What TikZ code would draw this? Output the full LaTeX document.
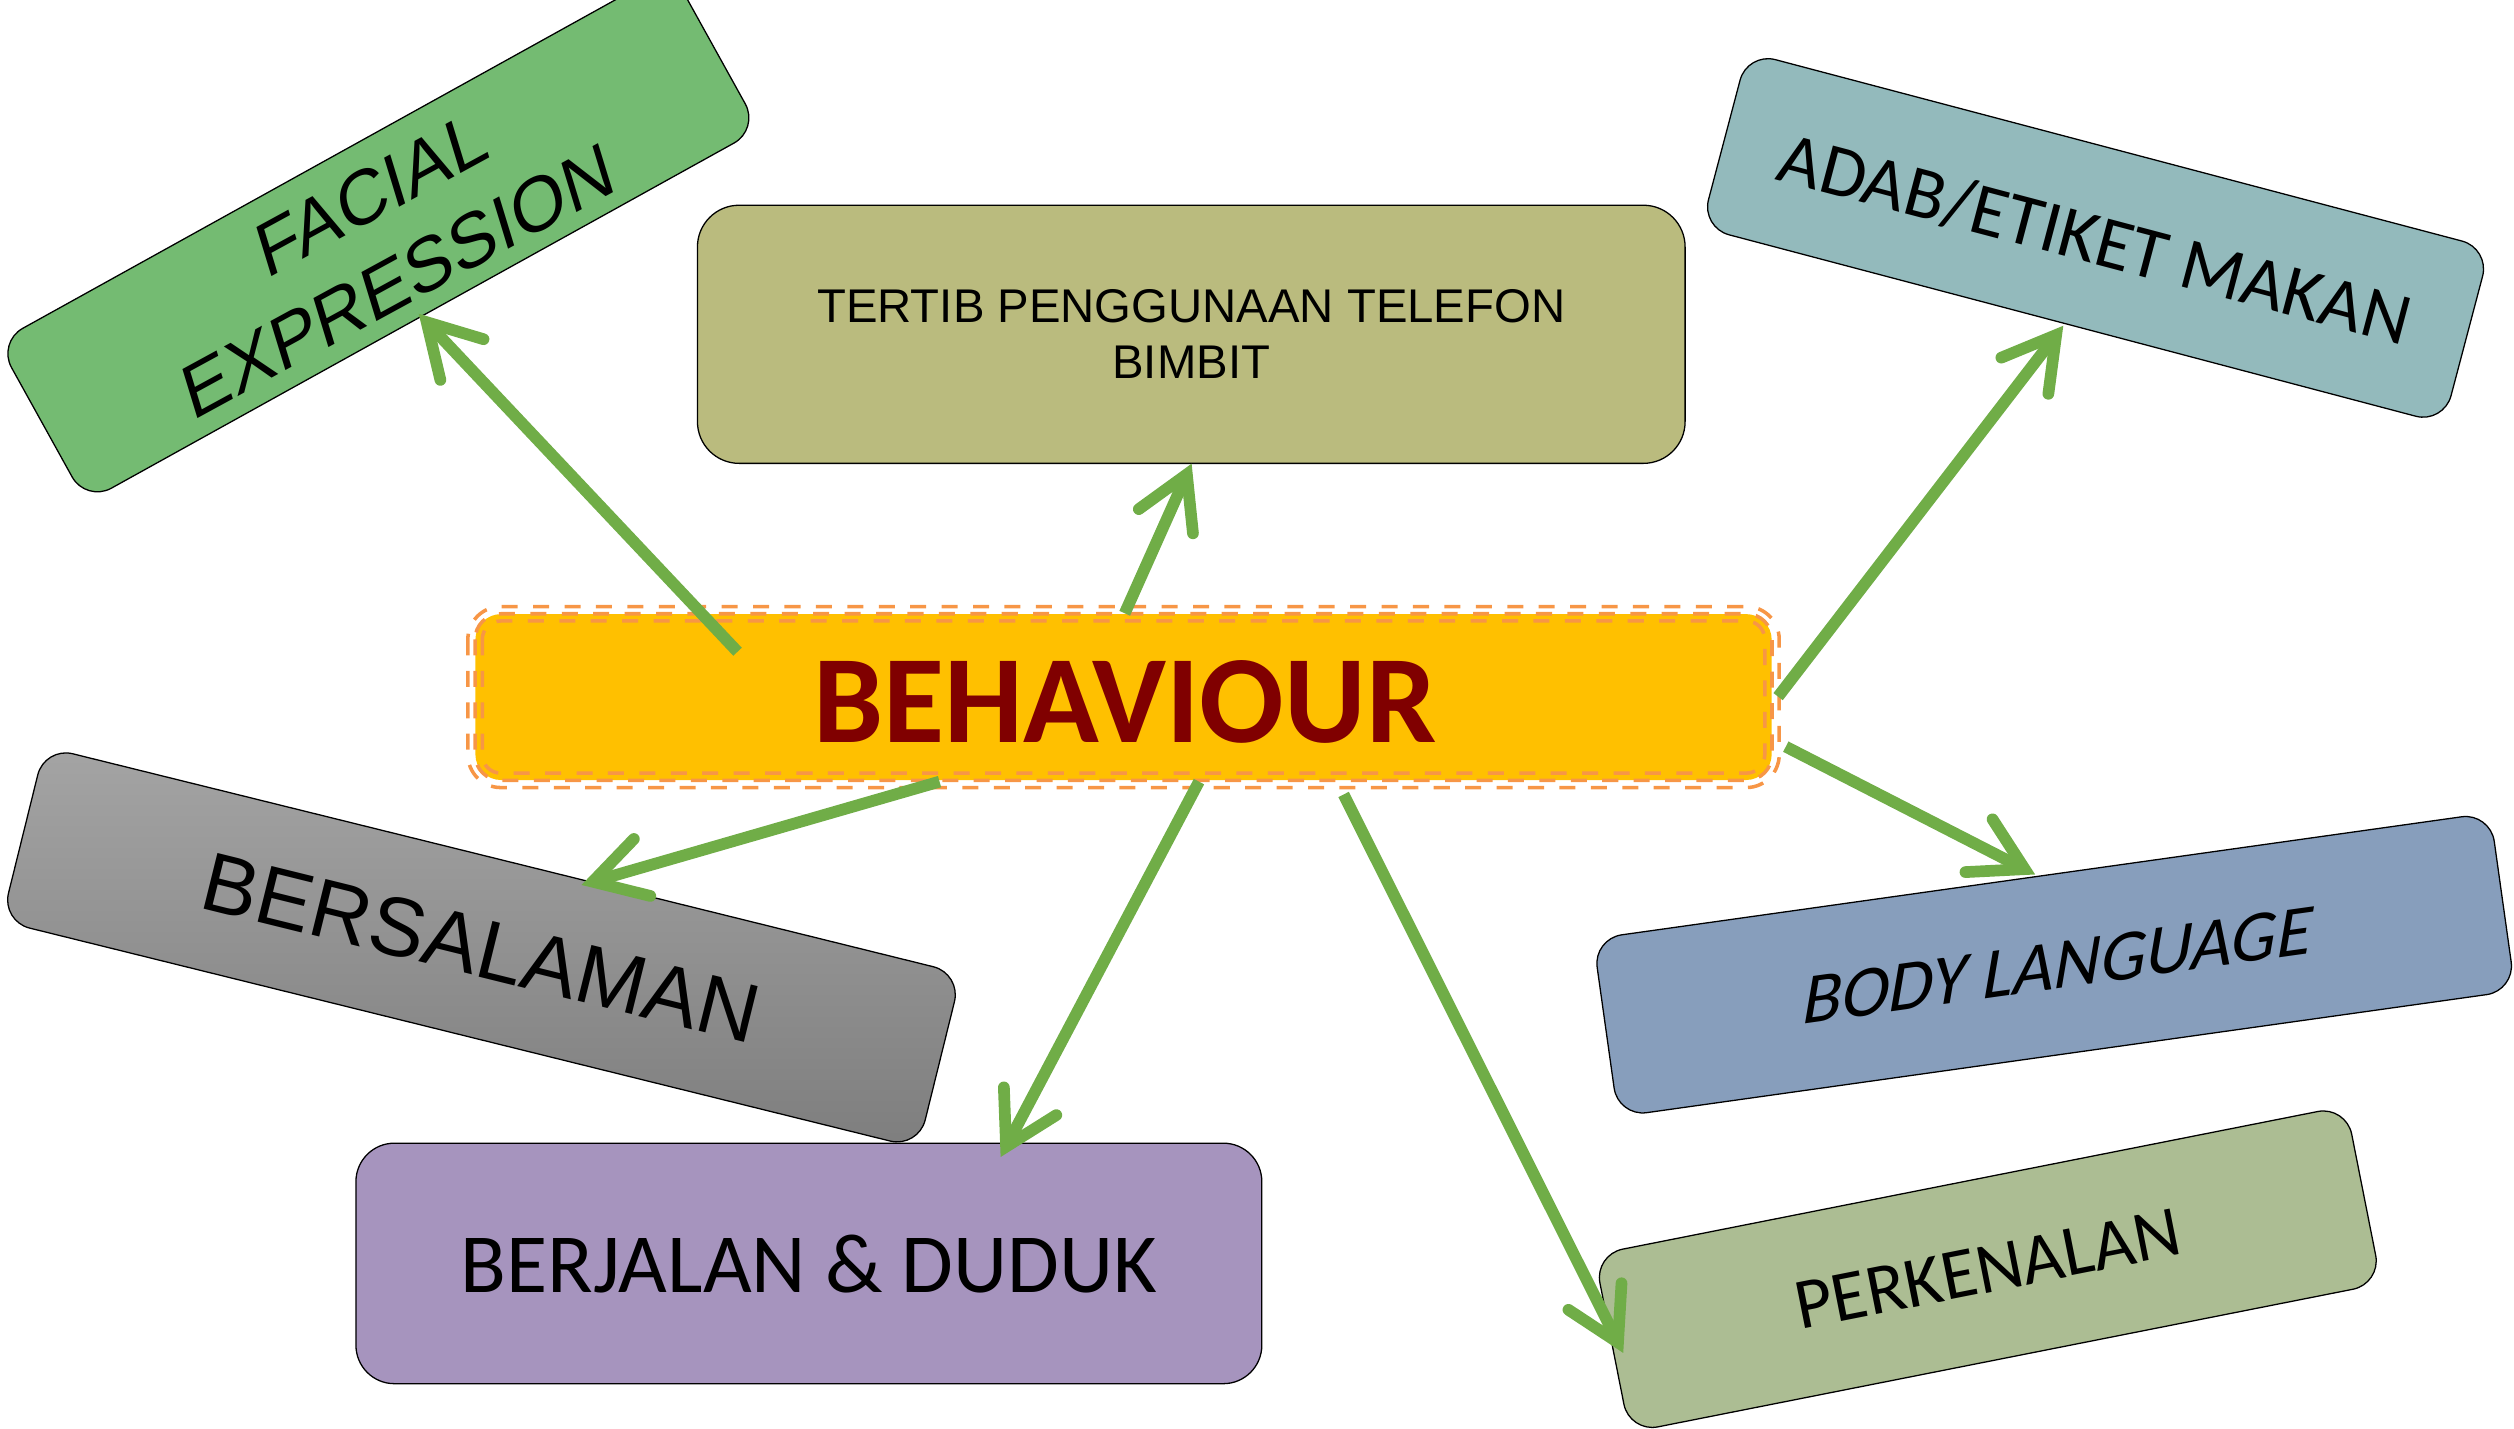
\documentclass[tikz,border=0pt]{standalone}
\usepackage{fontspec}
\setmainfont{Liberation Sans}
\newfontfamily\calibri{Carlito}
\usetikzlibrary{calc}

\definecolor{facialgreen}{HTML}{74BB72}
\definecolor{tertibolive}{HTML}{BABB7E}
\definecolor{adabteal}{HTML}{93BABC}
\definecolor{bodyblue}{HTML}{879EBC}
\definecolor{perkgreen}{HTML}{ACBD93}
\definecolor{walkpurple}{HTML}{A694BE}
\definecolor{greytop}{HTML}{A4A4A4}
\definecolor{greybottom}{HTML}{7E7E7E}
\definecolor{behfill}{HTML}{FFC000}
\definecolor{behline}{HTML}{F79646}
\definecolor{behtext}{HTML}{800000}
\definecolor{linkgreen}{HTML}{70AD47}

% open-headed link: #1 tail coordinate, #2 tip coordinate
\newcommand\linkarrow[2]{%
  \coordinate (#2-v) at ($(#2)!7.5pt!(#1)$);
  \draw[shaft] (#1) -- (#2-v);
  \draw[barb] ($(#2-v)!37pt!30:(#1)$) -- (#2-v) -- ($(#2-v)!37pt!-30:(#1)$);
}

\begin{document}
\begin{tikzpicture}[x=1pt,y=-1pt,
  box/.style={draw=black,line width=0.8pt,rounded corners=18pt,inner sep=0pt},
  shaft/.style={draw=linkgreen,line width=7.3pt,line cap=butt},
  barb/.style={draw=linkgreen,line width=7.3pt,line cap=round,line join=miter},
  ring/.style={draw=behline,line width=2.2pt,dash pattern=on 10pt off 9.6pt}]
\useasboundingbox (0,0) rectangle (1568,891);
\clip (0,0) rectangle (1568,891);

% topic boxes
\node[box,fill=facialgreen,rotate=29,minimum width=480pt,minimum height=114pt] (facial) at (236,147) {};
\node[cm={0.878,0.479,-0.292,0.956,(0,0)},align=center,inner sep=0pt,
      font=\fontsize{46.5}{57}\selectfont] (facialtext) at (240,148) {FACIAL\\EXPRESSION};

\node[box,fill=tertibolive,rounded corners=26pt,minimum width=616pt,minimum height=161pt,
      align=center,font=\fontsize{29.5}{35}\selectfont] (tertib) at (743,208.5)
      {TERTIB PENGGUNAAN TELEFON\\BIMBIT};

\node[box,fill=adabteal,rotate=-14.8,minimum width=479pt,minimum height=113pt,
      font=\calibri\fontsize{46}{46}\selectfont,text depth=0pt] (adab) at (1307,148.4)
      {ADAB/ETIKET MAKAN};

\node[box,top color=greytop,bottom color=greybottom,rotate=-13.9,minimum width=589pt,
      minimum height=112pt,font=\fontsize{52}{52}\selectfont,text depth=0pt] (salam)
      at (300.3,590.9) {BERSALAMAN};

\node[box,fill=walkpurple,rounded corners=24pt,minimum width=565pt,minimum height=150pt,
      font=\calibri\fontsize{52.5}{52.5}\selectfont,text depth=0pt] (walk) at (504.5,788)
      {BERJALAN \& DUDUK};

\node[box,fill=bodyblue,rotate=8,minimum width=565pt,minimum height=112pt] (body)
      at (1281.2,601.7) {};
\node[cm={0.972,0.136,0.17,1,(0,0)},inner sep=0pt,text depth=0pt,
      font=\calibri\fontsize{46}{46}\selectfont] (bodytext) at (1284,602) {BODY LANGUAGE};

\node[box,fill=perkgreen,rotate=11.2,minimum width=478pt,minimum height=113pt,
      font=\calibri\fontsize{45}{45}\selectfont,text depth=0pt] (perk) at (1239.8,791.6)
      {PERKENALAN};

% central box with triple dashed rim
\node[fill=behfill,rounded corners=16pt,minimum width=808.5pt,minimum height=103.5pt,
      inner sep=0pt] (beh) at (700.75,434.75) {};
\draw[ring,rounded corners=20.5pt] ([xshift=-4.5pt,yshift=4.5pt]beh.north west)
      rectangle ([xshift=4.5pt,yshift=-4.5pt]beh.south east);
\draw[ring,rounded corners=16pt] (beh.north west) rectangle (beh.south east);
\draw[ring,rounded corners=11.5pt] ([xshift=4.5pt,yshift=-4.5pt]beh.north west)
      rectangle ([xshift=-4.5pt,yshift=4.5pt]beh.south east);
\node[text=behtext,inner sep=0pt,text depth=0pt,
      font=\calibri\bfseries\fontsize{78}{78}\selectfont] (behlabel) at (701.5,437.5) {BEHAVIOUR};

% link end points
\coordinate (t1) at (460,406.5);    \coordinate (h1) at (261,195.5);
\coordinate (t2) at (701.5,382.5);  \coordinate (h2) at (743.3,289);
\coordinate (t3) at (1109,434.5);   \coordinate (h3) at (1287,203);
\coordinate (t4) at (1113.8,465.7); \coordinate (h4) at (1269.5,545.5);
\coordinate (t5) at (838,495.5);    \coordinate (h5) at (1012.5,844);
\coordinate (t6) at (747.8,487.5);  \coordinate (h6) at (624,721.8);
\coordinate (t7) at (586,487.5);    \coordinate (h7) at (362.5,552);

\linkarrow{t1}{h1}
\linkarrow{t2}{h2}
\linkarrow{t3}{h3}
\linkarrow{t4}{h4}
\linkarrow{t5}{h5}
\linkarrow{t6}{h6}
\linkarrow{t7}{h7}
\end{tikzpicture}
\end{document}
